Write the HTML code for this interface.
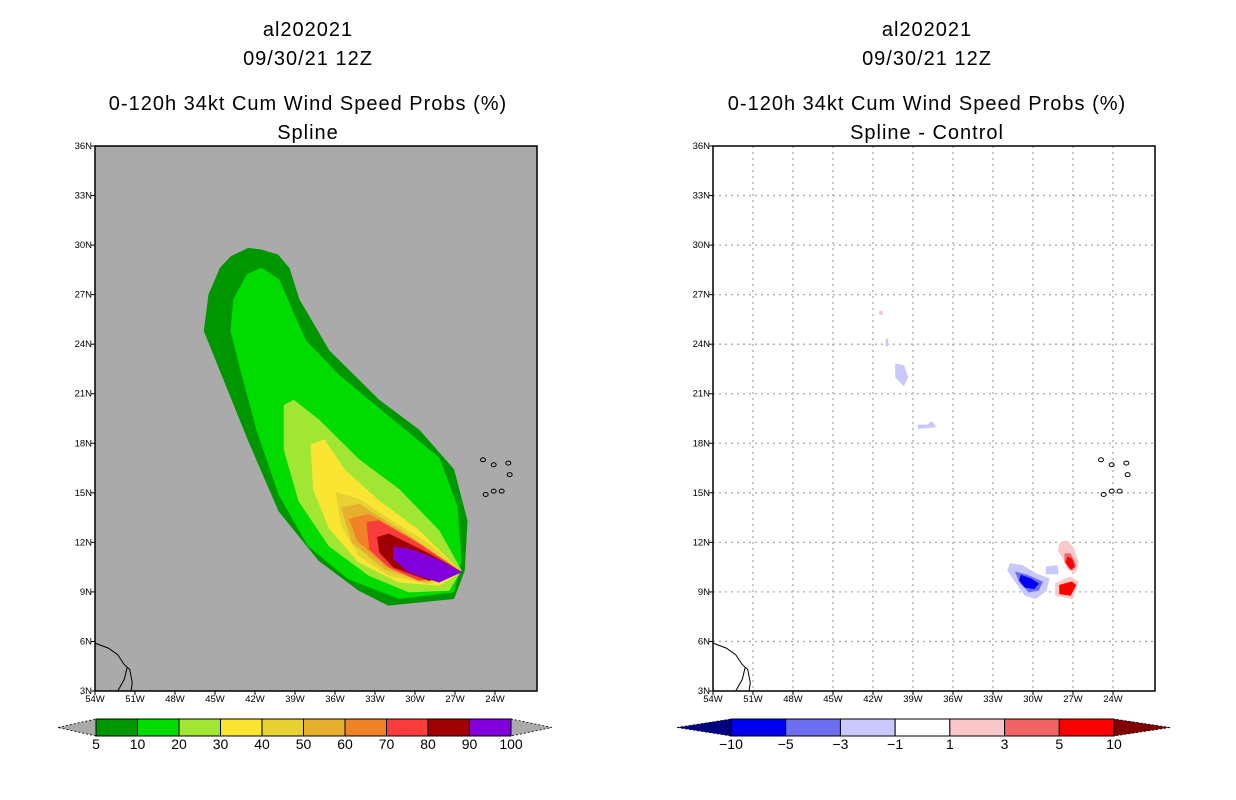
<!DOCTYPE html>
<html><head><meta charset="utf-8">
<style>
html,body{margin:0;padding:0;background:#fff;}
svg{display:block;}
text{font-family:"Liberation Sans",sans-serif;fill:#000;}
.t{font-size:20px;letter-spacing:1px;}
.tk{font-size:9.5px;}
.cb{font-size:14px;}
</style></head>
<body>
<svg id="fig" width="1236" height="800" viewBox="0 0 1236 800"></svg>
<script>
// ---- data ----
const lonTicks=[-54,-51,-48,-45,-42,-39,-36,-33,-30,-27,-24];
const latTicks=[3,6,9,12,15,18,21,24,27,30,33,36];
const probLevels=[5,10,20,30,40,50,60,70,80,90,100];
const probColors=["#009600","#00dc00","#a0e632","#fae632","#e6d232","#e6af2d","#f08228","#fa3c3c","#a00000","#8200dc"];
const diffLevels=["-10","-5","-3","-1","1","3","5","10"];
const diffColors=["#0000f0","#6e6ef0","#c8c8fa","#ffffff","#fac8c8","#f06464","#ff0000"];
const probPolys=[
 [[-45.45,27.0],[-44.6,28.6],[-43.8,29.3],[-42.5,29.8],[-41.55,29.7],[-40.3,29.4],[-39.45,28.6],[-38.7,26.7],[-36.45,23.6],[-32.7,20.6],[-29.7,18.8],[-27.1,16.4],[-26.1,13.3],[-26.3,10.3],[-27.1,8.6],[-32.0,8.2],[-34.2,9.1],[-37.2,10.9],[-40.2,13.9],[-42.5,18.2],[-44.3,21.8],[-45.8,24.8]],
 [[-43.6,26.7],[-42.6,28.2],[-41.55,28.6],[-40.2,27.9],[-39.2,26.0],[-38.2,24.2],[-35.7,22.1],[-31.2,19.1],[-28.2,17.1],[-26.85,14.2],[-26.55,10.9],[-27.1,9.0],[-31.2,8.6],[-35.0,9.8],[-38.0,11.8],[-40.2,14.9],[-41.85,18.8],[-43.05,22.4],[-43.8,24.8]],
 [[-39.8,20.3],[-39.1,20.6],[-37.2,19.4],[-34.2,17.0],[-31.2,15.2],[-28.2,12.7],[-26.55,10.3],[-27.45,9.1],[-30.45,9.0],[-33.45,10.0],[-36.45,11.8],[-38.7,14.5],[-39.8,17.6]],
 [[-37.8,17.9],[-36.8,18.2],[-35.3,16.4],[-32.7,14.5],[-29.7,12.7],[-26.55,10.2],[-28.2,9.4],[-31.2,9.6],[-34.2,10.8],[-36.45,12.9],[-37.6,15.2]],
 [[-35.9,15.0],[-34.2,14.6],[-31.95,13.4],[-28.95,11.9],[-26.55,10.2],[-28.95,9.5],[-31.95,10.0],[-34.2,11.2],[-35.5,13.0]],
 [[-35.5,14.1],[-34.2,14.3],[-31.2,12.8],[-26.55,10.2],[-29.3,9.6],[-32.3,10.4],[-34.7,12.0]],
 [[-34.9,13.4],[-33.5,13.7],[-30.45,12.3],[-26.55,10.2],[-29.7,9.7],[-32.3,10.7],[-34.3,12.1]],
 [[-33.6,13.2],[-32.7,13.3],[-29.7,11.9],[-26.55,10.2],[-29.7,9.7],[-31.95,10.5],[-33.4,11.6]],
 [[-32.8,12.3],[-31.95,12.5],[-28.95,11.3],[-26.55,10.2],[-28.95,9.7],[-31.6,10.5],[-32.65,11.4]],
 [[-31.6,11.7],[-30.45,11.6],[-28.2,10.9],[-26.55,10.2],[-28.2,9.6],[-30.45,10.2],[-31.6,11.0]]
];
// diff blobs: [colorIndex, polygon]
const diffBlobs=[
 [2,[[-40.3,22.8],[-39.7,22.7],[-39.4,22.0],[-39.7,21.5],[-40.3,22.0]]],
 [2,[[-41.0,24.3],[-40.9,24.3],[-40.9,23.9],[-41.0,23.9]]],
 [2,[[-38.6,19.1],[-37.9,19.1],[-37.6,19.3],[-37.3,19.0],[-38.6,18.9]]],
 [2,[[-31.7,10.7],[-30.8,10.6],[-29.8,10.1],[-28.8,9.8],[-29.0,9.1],[-29.8,8.6],[-30.6,8.8],[-31.3,9.6],[-31.9,10.3]]],
 [1,[[-31.3,10.2],[-30.4,10.0],[-29.3,9.6],[-29.6,9.1],[-30.3,9.0],[-31.0,9.6]]],
 [0,[[-30.9,10.0],[-30.2,9.8],[-29.6,9.5],[-29.9,9.2],[-30.6,9.3],[-31.0,9.7]]],
 [2,[[-29.0,10.5],[-28.2,10.6],[-28.1,10.1],[-29.0,10.1]]],
 [4,[[-28.0,11.9],[-27.5,12.1],[-27.0,11.7],[-26.6,10.8],[-26.8,10.2],[-27.4,10.4],[-27.7,11.0],[-28.1,11.5]]],
 [5,[[-27.6,11.3],[-27.2,11.3],[-26.8,10.6],[-27.1,10.3],[-27.6,10.8]]],
 [6,[[-27.4,11.1],[-27.1,11.0],[-26.9,10.5],[-27.2,10.4],[-27.5,10.8]]],
 [4,[[-28.3,9.5],[-27.2,9.9],[-26.6,9.6],[-27.1,8.6],[-28.3,8.8]]],
 [6,[[-28.0,9.4],[-27.1,9.6],[-26.8,9.4],[-27.2,8.8],[-28.0,8.9]]],
 [4,[[-41.5,26.0],[-41.3,26.0],[-41.3,25.8],[-41.5,25.8]]]
];
// ---- helpers ----
const NS="http://www.w3.org/2000/svg";
const svg=document.getElementById('fig');
function mk(tag,attrs,parent){const e=document.createElementNS(NS,tag);for(const k in attrs)e.setAttribute(k,attrs[k]);(parent||svg).appendChild(e);return e;}
const Y0=146,Y1=691;
function yS(lat){return Y0+(36-lat)*(Y1-Y0)/33;}
function xS(x0){return lon=>x0+(lon+54)*40/3;}
function pts(poly,xs){return poly.map(p=>xs(p[0]).toFixed(1)+","+yS(p[1]).toFixed(1)).join(" ");}
function title(cx,sub){
 const l=[["al202021",36],["09/30/21 12Z",65],["0-120h 34kt Cum Wind Speed Probs (%)",110],[sub,139]];
 l.forEach((s,i)=>{const t=mk('text',{x:cx,y:s[1],'text-anchor':'middle',class:'t'});t.textContent=s[0];
 
 });
}
function axes(x0,grid){
 const xs=xS(x0);const x1=x0+442;
 if(grid){
  lonTicks.slice(1).forEach(lo=>{const l=mk('line',{x1:xs(lo),x2:xs(lo),y1:Y0,y2:Y1,stroke:'#aaa','stroke-dasharray':'2,4','stroke-width':1.3});
   });
  latTicks.slice(1,-1).forEach(la=>{const l=mk('line',{x1:x0,x2:x1,y1:yS(la),y2:yS(la),stroke:'#aaa','stroke-dasharray':'2,4','stroke-width':1.3});
   });
 }
 const r=mk('rect',{x:x0,y:Y0,width:442,height:Y1-Y0,fill:'none',stroke:'#000','stroke-width':1.5});
 
 lonTicks.forEach(lo=>{mk('line',{x1:xs(lo),x2:xs(lo),y1:Y1,y2:Y1+4,stroke:'#000'});
  const t=mk('text',{x:xs(lo),y:Y1+11,'text-anchor':'middle',class:'tk'});t.textContent=(-lo)+"W";
  });
 latTicks.forEach(la=>{mk('line',{x1:x0-4,x2:x0,y1:yS(la),y2:yS(la),stroke:'#000'});
  const t=mk('text',{x:x0-3,y:yS(la)+3,'text-anchor':'end',class:'tk'});t.textContent=la+"N";
  });
}
function coast(x0){
 const xs=xS(x0);const g=mk('g',{fill:'none',stroke:'#000','stroke-width':1});
 
 mk('polyline',{points:pts([[-54,5.9],[-53,5.6],[-52.3,5.2],[-51.8,4.6],[-51.4,4.3],[-51.2,3.5],[-51.3,3]],xs)},g);
 mk('polyline',{points:pts([[-52.3,3],[-51.8,3.7],[-51.6,4.4]],xs)},g);
 [[-24.9,17.0],[-24.1,16.7],[-23.0,16.8],[-22.9,16.1],[-23.5,15.1],[-24.1,15.1],[-24.7,14.9]].forEach(p=>{
  mk('ellipse',{cx:xs(p[0]),cy:yS(p[1]),rx:2.5,ry:2},g);});
}
function clip(x0,id){const c=mk('clipPath',{id:id});mk('rect',{x:x0,y:Y0,width:442,height:Y1-Y0},c);}
// ---- left panel ----
title(308,"Spline");
clip(95,'c1');
const bg=mk('rect',{x:95,y:Y0,width:442,height:Y1-Y0,fill:'#aaaaaa'});

const gL=mk('g',{'clip-path':'url(#c1)'});
probPolys.forEach((p,i)=>{const e=mk('polygon',{points:pts(p,xS(95)),fill:probColors[i],stroke:probColors[i],'stroke-width':1,'stroke-linejoin':'round'},gL);
 });
coast(95);axes(95,false);
// ---- right panel ----
title(927,"Spline - Control");
axes(713,true);
const gR=mk('g',{});
diffBlobs.forEach(b=>{const e=mk('polygon',{points:pts(b[1],xS(713)),fill:diffColors[b[0]],stroke:diffColors[b[0]],'stroke-width':1,'stroke-linejoin':'round'},gR);
 });
coast(713);
// ---- colorbars ----
function colorbar(x0,x1,tri0,tri1,cols,labels,lc,rc,nm){
 const g=mk('g',{});
 const y=719,h=17,w=(x1-x0)/cols.length;
 mk('polygon',{points:`${tri0},${y+h/2} ${x0},${y} ${x0},${y+h}`,fill:lc,stroke:'#000','stroke-dasharray':'2,2','stroke-width':0.8},g);
 mk('polygon',{points:`${tri1},${y+h/2} ${x1},${y} ${x1},${y+h}`,fill:rc,stroke:'#000','stroke-dasharray':'2,2','stroke-width':0.8},g);
 cols.forEach((c,i)=>mk('rect',{x:x0+i*w,y:y,width:w,height:h,fill:c,stroke:'#000','stroke-width':1},g));
 labels.forEach((l,i)=>{const t=mk('text',{x:x0+i*w,y:y+h+13,'text-anchor':'middle',class:'cb'},g);t.textContent=String(l).replace('-','\u2212');
  });
}
colorbar(96,511,58,552,probColors,probLevels,'#aaaaaa','#aaaaaa','prob-colorbar');
colorbar(731,1114,677,1170,diffColors,diffLevels,'#000080','#800000','diff-colorbar');
</script>
</body></html>
